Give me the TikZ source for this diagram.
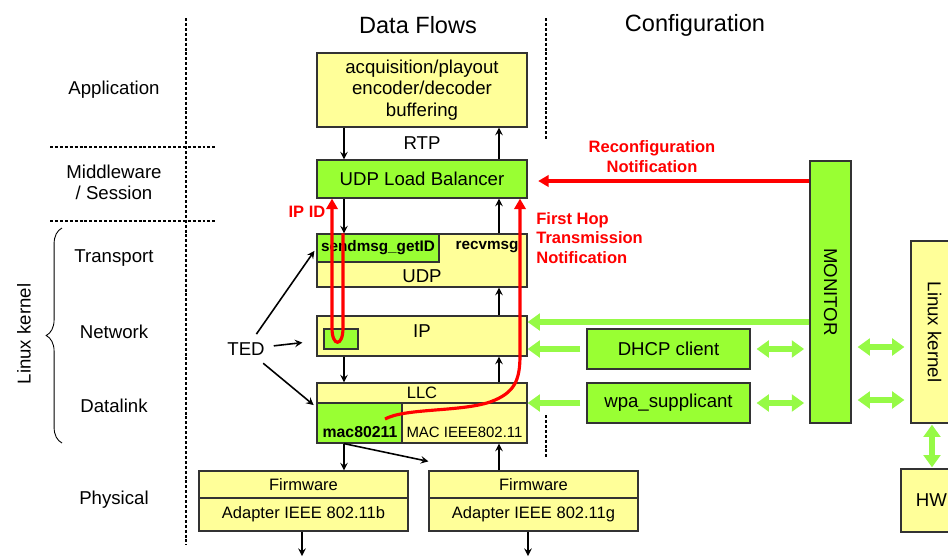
\documentclass[tikz,border=0pt]{standalone}
\usepackage{fontspec}
\setmainfont{Liberation Sans}
\usetikzlibrary{arrows.meta,decorations.pathreplacing}
\definecolor{boxyellow}{RGB}{255,255,153}
\definecolor{boxgreen}{RGB}{153,255,51}
\definecolor{cfggreen}{RGB}{150,250,70}

\begin{document}
\begin{tikzpicture}[x=0.02cm, y=-0.02cm,
    ybox/.style={draw=black!80, fill=boxyellow, line width=0.7pt, inner sep=0pt, font=\fontsize{10.6}{12.4}\selectfont},
    gbox/.style={ybox, fill=boxgreen},
    txt/.style={inner sep=0pt, font=\fontsize{10.6}{12.4}\selectfont},
    head/.style={inner sep=0pt, font=\fontsize{13.4}{16}\selectfont},
    small/.style={inner sep=0pt, font=\fontsize{8.7}{10}\selectfont\bfseries},
    fwtxt/.style={font=\fontsize{9.4}{11}\selectfont},
    redlbl/.style={inner sep=0pt, text=red, font=\fontsize{9.4}{11.3}\selectfont\bfseries},
    sep/.style={line width=0.85pt, dash pattern=on 1.7pt off 1.1pt},
    flow/.style={->, >=stealth, line width=0.9pt},
    rline/.style={draw=red, line width=1.8pt, -{Triangle[length=6pt,width=6.5pt]}},
    garrow/.style={draw=cfggreen, line width=3pt, -{Triangle[length=7pt,width=9.5pt]}},
    gdouble/.style={draw=cfggreen, line width=3pt, {Triangle[length=7pt,width=9.5pt]}-{Triangle[length=7pt,width=9.5pt]}}]
  \clip (0,0) rectangle (948,556);

  % layers
  \draw[sep] (186,18) -- (186,545);
  \draw[sep] (546,18) -- (546,140);
  \draw[sep] (546,415) -- (546,458);
  \draw[sep] (50,147) -- (217,147);
  \draw[sep] (50,221) -- (217,221);
  \node[head] (dflows) at (418,25) {Data Flows};
  \node[head] (config) at (695,25) {Configuration};
  \node[txt] (lapp) at (114,90) {Application};
  \node[txt, align=center, font=\fontsize{10.6}{12}\selectfont] (lmid) at (114,182) {Middleware\\/ Session};
  \node[txt] (ltrans) at (114,258) {Transport};
  \node[txt] (lnet) at (114,332) {Network};
  \node[txt] (ldl) at (114,406) {Datalink};
  \node[txt] (lphy) at (114,500) {Physical};
  \draw[line width=0.5pt, decorate, decoration={brace, amplitude=9pt}] (62,443) -- (62,228);
  \node[txt, rotate=90] (lkside) at (24,334) {Linux kernel};

  % data flow stack
  \node[ybox, minimum width=4.2cm, minimum height=1.48cm, align=center] (app) at (422,90) {acquisition/playout\\encoder/decoder\\buffering};
  \node[txt] (rtp) at (422,143) {RTP};
  \node[gbox, minimum width=4.2cm, minimum height=0.76cm] (ulb) at (422,179) {UDP Load Balancer};
  \node[ybox, minimum width=4.2cm, minimum height=1.06cm] (udp) at (422,260.5) {};
  \node[gbox, minimum width=2.44cm, minimum height=0.56cm, font=\fontsize{8.7}{10}\selectfont\bfseries] (sendmsg) at (378,248) {sendmsg\_getID};
  \node[small] (recvmsg) at (487,247) {recvmsg};
  \node[txt] (udptxt) at (422,276) {UDP};
  \node[ybox, minimum width=4.2cm, minimum height=0.8cm] (ip) at (422,336) {};
  \node[txt] (iptxt) at (422,331) {IP};
  \node[gbox, minimum width=0.68cm, minimum height=0.4cm] (ipid) at (341,339) {};
  \node[ybox, minimum width=4.2cm, minimum height=0.4cm, font=\fontsize{9.4}{11}\selectfont] (llc) at (422,393) {LLC};
  \node[gbox, minimum width=1.7cm, minimum height=0.8cm] (mac) at (359.5,423) {};
  \node[ybox, minimum width=2.5cm, minimum height=0.8cm] (macieee) at (464.5,423) {};
  \node[small, font=\fontsize{9}{10}\selectfont\bfseries] (mactxt) at (360,432) {mac80211};
  \node[txt, font=\fontsize{8.5}{10}\selectfont] (ieeetxt) at (464.5,432) {MAC IEEE802.11};
  \node[ybox, fwtxt, minimum width=4.18cm, minimum height=0.54cm] (fw1top) at (303.5,484.5) {Firmware};
  \node[ybox, fwtxt, minimum width=4.18cm, minimum height=0.66cm] (fw1bot) at (303.5,514.5) {Adapter IEEE 802.11b};
  \node[ybox, fwtxt, minimum width=4.18cm, minimum height=0.54cm] (fw2top) at (533.5,484.5) {Firmware};
  \node[ybox, fwtxt, minimum width=4.18cm, minimum height=0.66cm] (fw2bot) at (533.5,514.5) {Adapter IEEE 802.11g};

  \coordinate (dnx) at (344,0);
  \coordinate (upx) at (499,0);
  \coordinate (out1) at (302,556);
  \coordinate (out2) at (528,556);
  \draw[flow] (app.south -| dnx) -- (ulb.north -| dnx);
  \draw[flow] (ulb.north -| upx) -- (app.south -| upx);
  \draw[flow] (ulb.south -| dnx) -- (udp.north -| dnx);
  \draw[flow] (udp.north -| upx) -- (ulb.south -| upx);
  \draw[flow] (ip.north -| upx) -- (udp.south -| upx);
  \draw[flow] (ip.south -| dnx) -- (llc.north -| dnx);
  \draw[flow] (llc.north -| upx) -- (ip.south -| upx);
  \draw[flow] (mac.south -| dnx) -- (fw1top.north -| dnx);
  \draw[flow] (mac.south -| dnx) -- ([yshift=0.18cm]fw2top.north west);
  \draw[flow] (fw2top.north -| upx) -- (macieee.south -| upx);
  \draw[flow] (fw1bot.south -| out1) -- (out1);
  \draw[flow] (fw2bot.south -| out2) -- (out2);

  % TED
  \node[txt, inner sep=3pt] (ted) at (246,349) {TED};
  \draw[flow, shorten <=2pt, shorten >=2pt] (ted) -- (sendmsg.west);
  \draw[flow, shorten <=2pt, shorten >=8pt] (ted) -- ([yshift=-0.1cm]ip.west);
  \draw[flow, shorten <=2pt, shorten >=2pt] (ted) -- (mac.160);

  % notifications
  \coordinate (idl) at (332,0);
  \coordinate (idr) at (343,0);
  \coordinate (fhs) at (385,419);
  \coordinate (fhx) at (520,0);
  \coordinate (recy) at (0,181);
  \draw[rline] (udp.north -| idr) -- (343,328) .. controls (343,347) and (332,347) .. (332,328) -- (ulb.south -| idl);
  \node[redlbl] (ipidtxt) at (307,212) {IP ID};
  \draw[rline] (fhs) .. controls (405,408) and (460,412) .. (490,402) .. controls (515,393) and (520,380) .. (520,355) -- (ulb.south -| fhx);
  \node[redlbl, anchor=west, align=left] (fhtxt) at (536,238) {First Hop\\Transmission\\Notification};

  % configuration
  \node[gbox, minimum width=0.82cm, minimum height=5.24cm] (monitor) at (830.5,292) {\rotatebox{-90}{MONITOR}};
  \node[gbox, minimum width=3.26cm, minimum height=0.8cm] (dhcp) at (668.5,349) {DHCP client};
  \node[gbox, minimum width=3.26cm, minimum height=0.8cm] (wpa) at (668.5,403) {wpa\_supplicant};
  \node[ybox, minimum width=1.58cm, minimum height=3.64cm] (lk) at (950.5,332) {};
  \node[txt, rotate=-90] (lktxt) at (934.5,332) {Linux kernel};
  \node[ybox, minimum width=1.78cm, minimum height=1.26cm] (hw) at (945.5,500.5) {};
  \node[txt] (hwtxt) at (931.5,500) {HW};

  \draw[rline, shorten >=6pt] (monitor.west |- recy) -- (ulb.east |- recy);
  \node[redlbl, align=center] (rectxt) at (652,157) {Reconfiguration\\Notification};

  \coordinate (cfgy) at (0,322);
  \coordinate (ky1) at (0,347);
  \coordinate (ky2) at (0,400);
  \coordinate (kx) at (932,0);
  \draw[garrow] (monitor.west |- cfgy) -- (ip.east |- cfgy);
  \draw[garrow, shorten <=3.4pt] (dhcp.west) -- (dhcp.west -| ip.east);
  \draw[garrow, shorten <=3.4pt] (wpa.west) -- (wpa.west -| llc.east);
  \draw[gdouble, shorten <=3.4pt, shorten >=3pt] (dhcp.east) -- (dhcp.east -| monitor.west);
  \draw[gdouble, shorten <=3.4pt, shorten >=3pt] (wpa.east) -- (wpa.east -| monitor.west);
  \draw[gdouble, shorten <=3.4pt, shorten >=3.4pt] (monitor.east |- ky1) -- (lk.west |- ky1);
  \draw[gdouble, shorten <=3.4pt, shorten >=3.4pt] (monitor.east |- ky2) -- (lk.west |- ky2);
  \draw[gdouble, shorten <=0.6pt, shorten >=0.6pt] (lk.south -| kx) -- (hw.north -| kx);
\end{tikzpicture}
\end{document}
